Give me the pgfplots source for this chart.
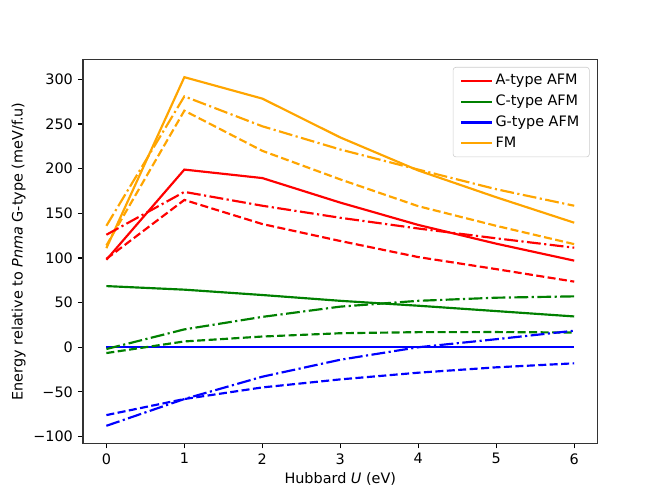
\documentclass[border=0pt]{standalone}
\usepackage{pgfplots}
\pgfplotsset{compat=1.18}
\usepackage{fontspec}
\setmainfont{DejaVu Sans}
\definecolor{mplgreen}{RGB}{0,128,0}
\definecolor{mplorange}{RGB}{255,165,0}
\begin{document}
\fontsize{10}{12}\selectfont
\begin{tikzpicture}
\useasboundingbox (-57.6pt,-38.02pt) rectangle (403.2pt,307.58pt);
\begin{axis}[
  scale only axis,
  width=357.12pt, height=266.1pt,
  xmin=-0.3, xmax=6.3,
  ymin=-107.5, ymax=322,
  xtick={0,1,2,3,4,5,6},
  ytick={-100,-50,0,50,100,150,200,250,300},
  yticklabels={−100,−50,0,50,100,150,200,250,300},
  /pgf/number format/assume math mode=true,
  tick align=outside,
  tick pos=left,
  major tick length=3.5pt,
  every tick/.style={line width=0.8pt, black},
  axis line style={line width=0.8pt, black!80},
  xlabel={Hubbard \textit{U} (eV)},
  ylabel={Energy relative to \textit{Pnma} G-type (meV/f.u)},
  xlabel style={yshift=1pt},
  ylabel style={yshift=-1.5pt},
  ticklabel style={font=\fontsize{10}{12}\selectfont},
  label style={font=\fontsize{10}{12}\selectfont},
  legend style={at={(1,1)}, anchor=north east, xshift=-5.5pt, yshift=-5pt,
    draw=black!20, rounded corners=2pt, fill=white, fill opacity=0.8, text opacity=1,
    font=\fontsize{10}{12}\selectfont, row sep=1.6pt, inner xsep=5pt, inner ysep=3pt},
  legend cell align=left,
  legend image code/.code={\draw[#1] (0pt,0pt) -- (21pt,0pt);},
  every axis plot/.append style={line width=1.5pt},
  dsh/.style={dash pattern=on 5.55pt off 2.4pt},
  dshd/.style={dash pattern=on 9.6pt off 2.4pt on 1.5pt off 2.4pt},
]
% A-type AFM
\addplot[red] coordinates {(0,98) (1,199) (2,189.5) (3,162) (4,137) (5,116) (6,97)};
\addlegendentry{A-type AFM}
% C-type AFM
\addplot[mplgreen] coordinates {(0,68.5) (1,64.5) (2,58.5) (3,52) (4,46.5) (5,40.5) (6,34.5)};
\addlegendentry{C-type AFM}
% G-type AFM
\addplot[blue] coordinates {(0,0) (1,0) (2,0) (3,0) (4,0) (5,0) (6,0)};
\addlegendentry{G-type AFM}
% FM
\addplot[mplorange] coordinates {(0,111) (1,302.5) (2,278.5) (3,235) (4,198) (5,168) (6,139.5)};
\addlegendentry{FM}
% dashed
\addplot[red, dsh, forget plot] coordinates {(0,99) (1,165) (2,138) (3,119) (4,101) (5,87.5) (6,73.5)};
\addplot[mplgreen, dsh, forget plot] coordinates {(0,-6.5) (1,6.5) (2,12) (3,15.7) (4,16.9) (5,17) (6,16.5)};
\addplot[blue, dsh, forget plot] coordinates {(0,-76) (1,-58) (2,-45) (3,-36) (4,-28.5) (5,-22.5) (6,-18)};
\addplot[mplorange, dsh, forget plot] coordinates {(0,114) (1,265) (2,220) (3,188) (4,158) (5,136) (6,115.5)};
% dash-dot
\addplot[red, dshd, forget plot] coordinates {(0,126) (1,174) (2,158.5) (3,145) (4,133) (5,122) (6,111.5)};
\addplot[mplgreen, dshd, forget plot] coordinates {(0,-2) (1,20) (2,34) (3,45.5) (4,52) (5,55.5) (6,57)};
\addplot[blue, dshd, forget plot] coordinates {(0,-88) (1,-58) (2,-33) (3,-14) (4,0) (5,9) (6,18.5)};
\addplot[mplorange, dshd, forget plot] coordinates {(0,136) (1,281) (2,247.5) (3,221.5) (4,199) (5,177) (6,158.5)};
\end{axis}
\end{tikzpicture}
\end{document}
